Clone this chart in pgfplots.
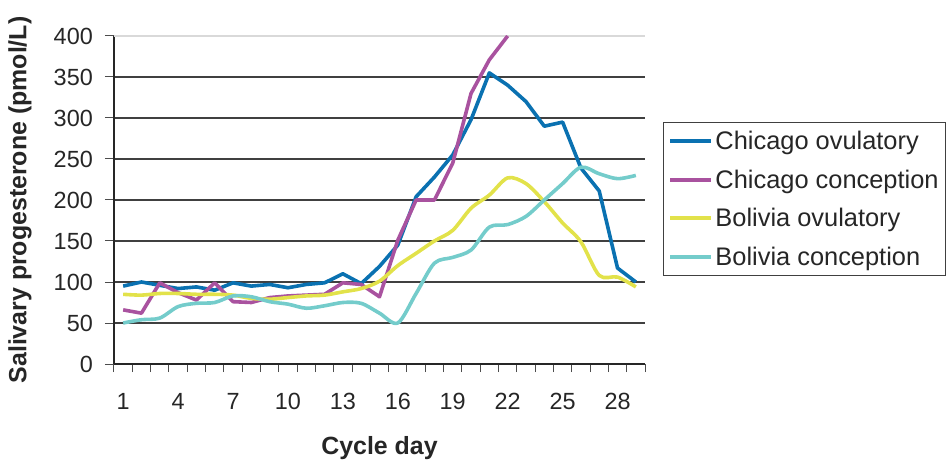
\documentclass[border=0pt]{standalone}
\usepackage{pgfplots}
\pgfplotsset{compat=1.18}
\usepackage{fontspec}
\setmainfont{Liberation Sans}
\definecolor{cblue}{HTML}{0A71B1}
\definecolor{cmag}{HTML}{A9529F}
\definecolor{cyel}{HTML}{E2E24A}
\definecolor{ccyan}{HTML}{74CCCB}
\definecolor{gridc}{HTML}{404040}
\begin{document}
\begin{tikzpicture}
\useasboundingbox (-114bp,-97bp) rectangle (832bp,364bp);
\begin{axis}[
  at={(0,0)}, anchor=south west,
  scale only axis, width=531bp, height=328bp,
  xmin=0.5, xmax=29.5, ymin=0, ymax=400,
  axis x line=bottom, axis y line=left,
  axis line style={-, draw=black!85, line width=1.2bp},
  xtick={1,4,...,28},
  minor xtick={0.5,1.5,...,29.5},
  ytick={0,50,...,350},
  extra y ticks={400},
  extra y tick style={grid style={black!15, line width=1.2bp}},
  tick align=outside,
  major tick length=9bp, minor tick length=8bp,
  xtick style={draw=none},
  minor x tick style={draw=black!70, line width=1bp},
  y tick style={draw=black!70, line width=1bp},
  ymajorgrids=true,
  grid style={gridc, line width=1.1bp},
  /pgf/number format/assume math mode=true,
  ticklabel style={font=\fontsize{23.5}{26}\selectfont, text=black!85},
  xticklabel style={anchor=north, inner sep=0pt},
  yticklabel style={anchor=east, inner sep=0pt, xshift=1bp},
  xticklabel shift=20bp,
  yticklabel shift=13bp,
  xlabel={\textbf{Cycle day}},
  ylabel={\textbf{Salivary progesterone (pmol/L)}},
  label style={font=\fontsize{25}{28}\selectfont, text=black!85},
  xlabel style={at={(axis description cs:0.5,-0.255)}, anchor=center},
  ylabel style={at={(axis description cs:-0.177,0.5)}, anchor=center},
  legend style={at={(1.0339,0.7378)}, anchor=north west, draw=black!75, line width=0.9bp,
    font=\fontsize{25.5}{28}\selectfont, text=black!85, inner xsep=5bp, inner ysep=7bp, row sep=14.5bp,
    nodes={inner sep=2bp}},
  legend cell align=left,
  legend image code/.code={\draw[#1, line width=4bp] (0bp,0bp) -- (41bp,0bp);},
  every axis plot/.append style={line width=3.6bp, line join=round},
]
\addplot[cblue] coordinates {(1,95)(2,100)(3,96)(4,92)(5,94)(6,90)(7,99)(8,95)(9,97)(10,93)(11,97)(12,99)(13,110)(14,98)(15,119)(16,145)(17,204)(18,228)(19,255)(20,298)(21,355)(22,340)(23,320)(24,290)(25,295)(26,239)(27,211)(28,117)(29,100)};
\addlegendentry{Chicago ovulatory}
\addplot[cmag] coordinates {(1,66)(2,62)(3,99)(4,87)(5,78)(6,99)(7,76)(8,75)(9,81)(10,83)(11,84)(12,85)(13,99)(14,97)(15,82)(16,151)(17,200)(18,200)(19,245)(20,330)(21,371)(22,400)};
\addlegendentry{Chicago conception}
\addplot[cyel, smooth, tension=0.5] coordinates {(1,85)(2,84)(3,86)(4,86)(5,85)(6,85)(7,84)(8,80)(9,79)(10,81)(11,83)(12,84)(13,88)(14,92)(15,101)(16,120)(17,135)(18,150)(19,163)(20,190)(21,206)(22,227)(23,220)(24,198)(25,172)(26,149)(27,108)(28,106)(29,94)};
\addlegendentry{Bolivia ovulatory}
\addplot[ccyan, smooth, tension=0.5] coordinates {(1,50)(2,54)(3,56)(4,70)(5,74)(6,75)(7,83)(8,82)(9,76)(10,73)(11,68)(12,71)(13,75)(14,74)(15,62)(16,50)(17,86)(18,123)(19,130)(20,139)(21,167)(22,170)(23,180)(24,200)(25,220)(26,240)(27,232)(28,226)(29,230)};
\addlegendentry{Bolivia conception}
\end{axis}
\end{tikzpicture}
\end{document}
